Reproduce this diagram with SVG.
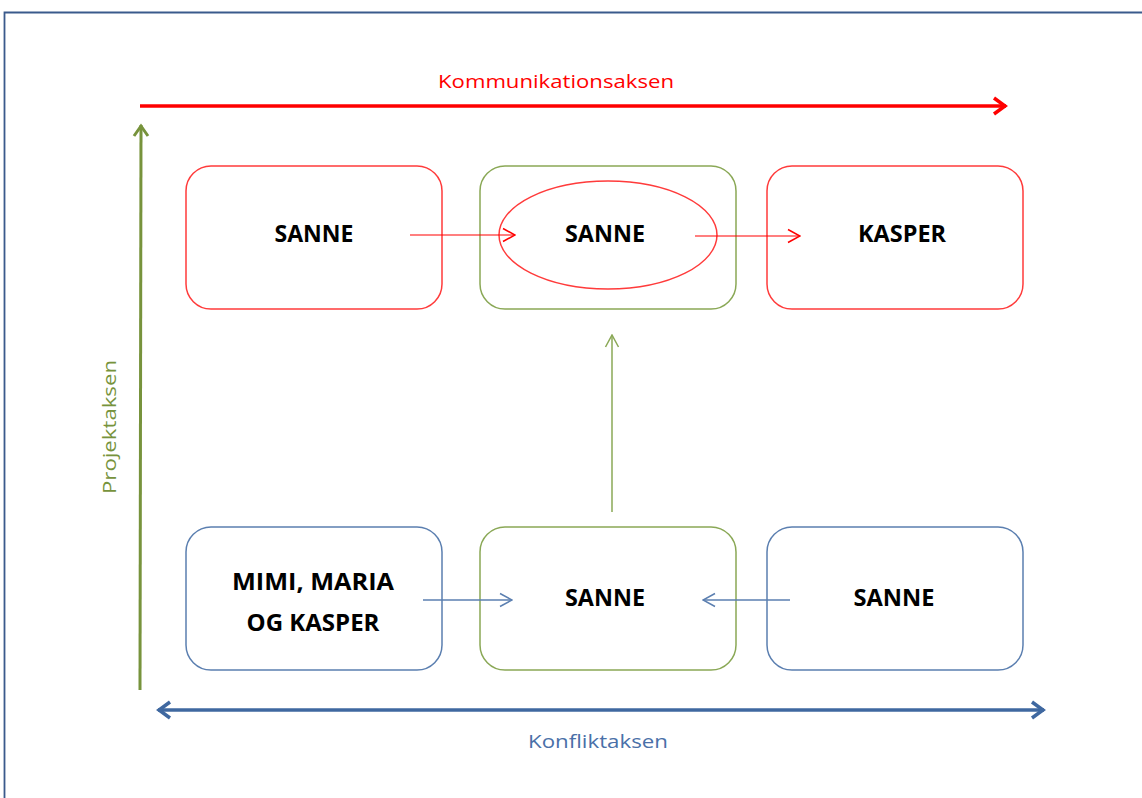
<svg xmlns="http://www.w3.org/2000/svg" width="1142" height="798" viewBox="0 0 1142 798">
<style>
.box{fill:#fff;stroke-width:1.5}
.red{stroke:#ff3b3b}
.grn{stroke:#8aa856}
.blu{stroke:#5b7fb0}
.lbl{font-family:"Open Sans","Liberation Sans",sans-serif;font-weight:bold;font-size:23px;fill:#000;text-anchor:middle}
.ax{font-family:"Open Sans","Liberation Sans",sans-serif;font-size:19px;text-anchor:middle}
.con{fill:none}
</style>
<defs>
<marker id="hr" viewBox="0 0 16 16" refX="15" refY="8" markerWidth="16" markerHeight="16" markerUnits="userSpaceOnUse" orient="auto"><path d="M3,1.5 L15,8 L3,14.5" fill="none" stroke="#ff0000" stroke-width="1.5"/></marker>
<marker id="hg" viewBox="0 0 16 16" refX="15" refY="8" markerWidth="16" markerHeight="16" markerUnits="userSpaceOnUse" orient="auto"><path d="M3,1.5 L15,8 L3,14.5" fill="none" stroke="#8aa856" stroke-width="1.5"/></marker>
<marker id="hb" viewBox="0 0 16 16" refX="15" refY="8" markerWidth="16" markerHeight="16" markerUnits="userSpaceOnUse" orient="auto"><path d="M3,1.5 L15,8 L3,14.5" fill="none" stroke="#5b7fb0" stroke-width="1.5"/></marker>
<marker id="HR" viewBox="0 0 20 20" refX="18" refY="10" markerWidth="20" markerHeight="20" markerUnits="userSpaceOnUse" orient="auto"><path d="M6,2 L17,10 L6,18" fill="none" stroke="#ff0000" stroke-width="3.5"/></marker>
<marker id="HG" viewBox="0 0 20 20" refX="18" refY="10" markerWidth="20" markerHeight="20" markerUnits="userSpaceOnUse" orient="auto"><path d="M7,3 L17,10 L7,17" fill="none" stroke="#77933c" stroke-width="3"/></marker>
<marker id="HB" viewBox="0 0 20 20" refX="18" refY="10" markerWidth="20" markerHeight="20" markerUnits="userSpaceOnUse" orient="auto-start-reverse"><path d="M6,2 L17,10 L6,18" fill="none" stroke="#3f68a0" stroke-width="3.5"/></marker>
</defs>
<rect width="1142" height="798" fill="#fff"/>
<path d="M4.5,800 V12.5 H1142" fill="none" stroke="#3a5a8c" stroke-width="1.8"/>

<g id="axes">
<line x1="140" y1="106" x2="1006" y2="106" stroke="#ff0000" stroke-width="3.5" marker-end="url(#HR)"/>
<line x1="140" y1="690" x2="141" y2="125" stroke="#77933c" stroke-width="3" marker-end="url(#HG)"/>
<line x1="158" y1="710" x2="1044" y2="710" stroke="#3f68a0" stroke-width="3.5" marker-start="url(#HB)" marker-end="url(#HB)"/>
<text class="ax" x="556" y="88" fill="#ff0000" textLength="236" lengthAdjust="spacingAndGlyphs">Kommunikationsaksen</text>
<text class="ax" x="598" y="748" fill="#4a70a8" textLength="140" lengthAdjust="spacingAndGlyphs">Konfliktaksen</text>
<text class="ax" transform="translate(116,427) rotate(-90)" fill="#77933c" textLength="134" lengthAdjust="spacingAndGlyphs">Projektaksen</text>
</g>

<g id="n1"><rect class="box red" x="186" y="166" width="256" height="143" rx="25"/><text class="lbl" x="314" y="242" textLength="79" lengthAdjust="spacingAndGlyphs">SANNE</text></g>
<g id="n2"><rect class="box grn" x="480" y="166" width="256" height="143" rx="25"/><ellipse cx="608" cy="235" rx="109" ry="54" fill="none" stroke="#ff3b3b" stroke-width="1.5"/><text class="lbl" x="605" y="242" textLength="80" lengthAdjust="spacingAndGlyphs">SANNE</text></g>
<g id="n3"><rect class="box red" x="767" y="166" width="256" height="143" rx="25"/><text class="lbl" x="902" y="242" textLength="88" lengthAdjust="spacingAndGlyphs">KASPER</text></g>
<g id="n4"><rect class="box blu" x="186" y="527" width="256" height="143" rx="25"/><text class="lbl" x="313" y="590" textLength="162" lengthAdjust="spacingAndGlyphs">MIMI, MARIA</text><text class="lbl" x="313" y="631" textLength="133" lengthAdjust="spacingAndGlyphs">OG KASPER</text></g>
<g id="n5"><rect class="box grn" x="480" y="527" width="256" height="143" rx="25"/><text class="lbl" x="605" y="606" textLength="80" lengthAdjust="spacingAndGlyphs">SANNE</text></g>
<g id="n6"><rect class="box blu" x="767" y="527" width="256" height="143" rx="25"/><text class="lbl" x="894" y="606" textLength="81" lengthAdjust="spacingAndGlyphs">SANNE</text></g>

<g id="connectors">
<line class="con" x1="410" y1="235" x2="515" y2="235" stroke="#ff0000" stroke-width="1.2" marker-end="url(#hr)"/>
<line class="con" x1="695" y1="236" x2="800" y2="236" stroke="#ff0000" stroke-width="1.2" marker-end="url(#hr)"/>
<line class="con" x1="612" y1="512" x2="612" y2="335" stroke="#8aa856" stroke-width="1.5" marker-end="url(#hg)"/>
<line class="con" x1="423" y1="600" x2="512" y2="600" stroke="#5b7fb0" stroke-width="1.5" marker-end="url(#hb)"/>
<line class="con" x1="790" y1="600" x2="703" y2="600" stroke="#5b7fb0" stroke-width="1.5" marker-end="url(#hb)"/>
</g>
</svg>
